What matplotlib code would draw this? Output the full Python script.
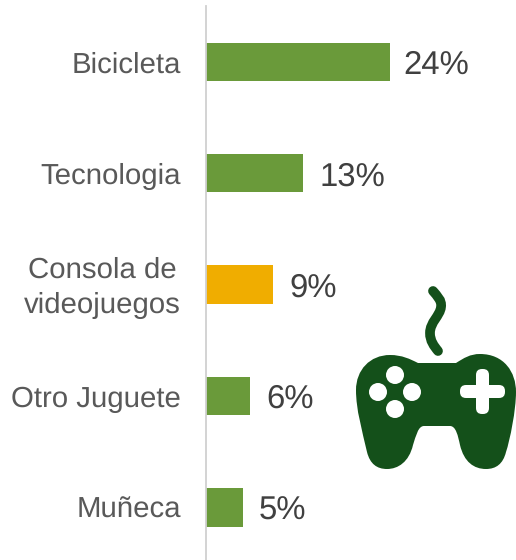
import numpy as np
import matplotlib
matplotlib.use('Agg')
import matplotlib.pyplot as plt
from matplotlib.patches import FancyBboxPatch, Circle, PathPatch
from matplotlib.path import Path
from matplotlib.transforms import ScaledTranslation

plt.rcParams['font.family'] = ['Liberation Sans', 'DejaVu Sans']
plt.rcParams['text.hinting'] = 'none'

categories = ['Bicicleta', 'Tecnologia', 'Consola de\nvideojuegos', 'Otro Juguete', 'Muñeca']
values = [24.2, 12.8, 8.8, 5.8, 4.9]
labels = [24, 13, 9, 6, 5]
colors = ['#6A9A3A', '#6A9A3A', '#F0AD00', '#6A9A3A', '#6A9A3A']
dark = '#14501A'

fig = plt.figure(figsize=(5.16, 5.60), dpi=100)
ax = fig.add_axes([206 / 516, 0, 310 / 516, 1 - 6 / 560])

y = np.arange(len(categories))
ax.barh(y, values, height=0.345, color=colors)
ax.set_ylim(4.47, -0.5)
ax.set_xlim(0, 40.8)
ax.set_yticks(y)
ax.set_yticklabels(categories, fontsize=21.2, color='#595959', linespacing=1.4, multialignment='center')
ax.tick_params(axis='y', length=0, pad=18)
ax.set_xticks([])
for s in ['top', 'right', 'bottom']:
    ax.spines[s].set_visible(False)
ax.spines['left'].set_color('#D0D0D0')
ax.spines['left'].set_linewidth(1.3)

# the two-line label sits a little low otherwise
for lab in ax.get_yticklabels():
    if '\n' in lab.get_text():
        lab.set_transform(lab.get_transform() + ScaledTranslation(0, 4 / 100, fig.dpi_scale_trans))

for yi, v in zip(y, labels):
    ax.annotate(f'{v}%', (v, yi), xytext=(10.8, -2.5), textcoords='offset points',
                va='center', ha='left', fontsize=23.7, color='#404040')

# gamepad icon in pixel coordinates
ic = fig.add_axes([0, 0, 1, 1])
ic.set_xlim(0, 516)
ic.set_ylim(560, 0)
ic.axis('off')
ic.patch.set_alpha(0)

M, L, C = Path.MOVETO, Path.LINETO, Path.CURVE4
body = Path([(418, 363), (456, 363),
             (464, 358), (470, 354), (480, 354),
             (504, 354), (516, 372), (516, 392),
             (516, 410), (510, 440), (506, 452),
             (503, 464), (496, 469), (486, 469),
             (474, 469), (464, 462), (460, 445),
             (458, 436), (456, 426), (450, 426),
             (424, 426),
             (418, 426), (416, 436), (413, 445),
             (409, 462), (398, 469), (387, 469),
             (377, 469), (370, 464), (367, 452),
             (362, 430), (356, 410), (356, 390),
             (356, 370), (370, 355), (390, 355),
             (402, 355), (410, 359), (418, 363)],
            [M, L, C, C, C, C, C, C, C, C, C, C, C, C, C, C, C, C, C, C, L,
             C, C, C, C, C, C, C, C, C, C, C, C, C, C, C, C, C, C])
ic.add_patch(PathPatch(body, fc=dark, ec='none'))

cable = Path([(433, 291), (437, 296), (442, 300), (441, 307),
              (440, 316), (430, 322), (430, 333),
              (430, 341), (434, 346), (438, 351)],
             [M] + [C] * 9)
ic.add_patch(PathPatch(cable, fc='none', ec=dark, lw=7, capstyle='round'))

for cx, cy in [(395, 375), (378, 392), (412, 392), (395, 409)]:
    ic.add_patch(Circle((cx, cy), 9, fc='white', ec='none'))
ic.add_patch(FancyBboxPatch((460, 385), 45, 13, boxstyle='round,pad=0,rounding_size=6', fc='white', ec='none'))
ic.add_patch(FancyBboxPatch((476, 369), 13, 45, boxstyle='round,pad=0,rounding_size=6', fc='white', ec='none'))

fig.savefig('out.png', dpi=100)
